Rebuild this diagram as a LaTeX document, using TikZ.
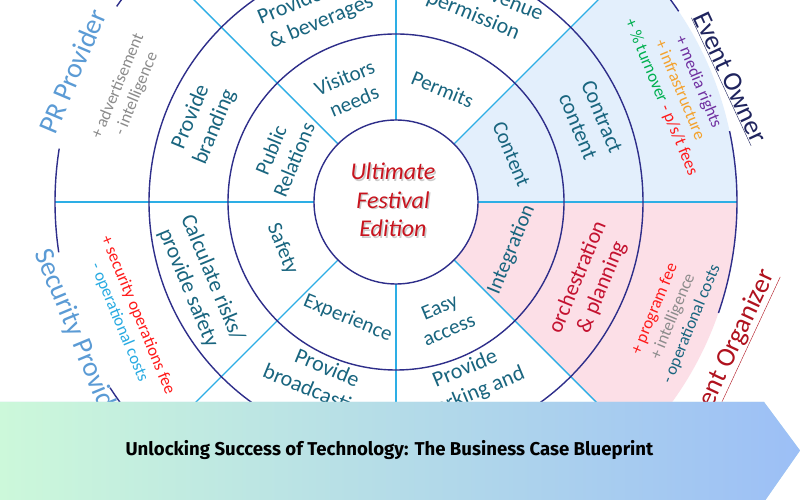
\documentclass[tikz,border=0pt]{standalone}
\usepackage{fontspec}
\setmainfont{Carlito}
\newfontfamily\bannerfont{Fira Sans}
\definecolor{navy}{HTML}{2E2E8A}
\definecolor{cyanl}{HTML}{2DAEE5}
\definecolor{wteal}{HTML}{19657F}
\definecolor{cred}{HTML}{C8141E}
\definecolor{ored}{HTML}{C41230}
\definecolor{prblue}{HTML}{5B9BD5}
\definecolor{ownnavy}{HTML}{1F245E}
\definecolor{orgred}{HTML}{B0121E}
\definecolor{egray}{HTML}{8C8C8C}
\definecolor{epurple}{HTML}{7030A0}
\definecolor{eorange}{HTML}{F4A22D}
\definecolor{egreen}{HTML}{00B050}
\definecolor{ered}{HTML}{FF1A1A}
\definecolor{elblue}{HTML}{29ABE2}
\definecolor{blueF}{HTML}{E3EFFC}
\definecolor{pinkF}{HTML}{FCDFE7}
\definecolor{bL}{HTML}{CCF8DA}
\definecolor{bR}{HTML}{9CBFF6}
\begin{document}
\begin{tikzpicture}[x=1pt,y=1pt,
  ringA/.style={text=wteal, font=\fontsize{21}{25}\selectfont, align=center, inner sep=0pt},
  ringB/.style={text=wteal, font=\fontsize{22}{26}\selectfont, align=center, inner sep=0pt},
  econ/.style={font=\fontsize{17}{20}\selectfont, align=center, inner sep=0pt},
  outerlab/.style={font=\fontsize{28}{32}\selectfont, inner sep=0pt},
  ownlab/.style={font=\fontsize{27}{31}\selectfont, inner sep=0pt},
  circ/.style={draw=navy, line width=1.4pt},
  spoke/.style={draw=cyanl, line width=1.4pt}]
\useasboundingbox (0,0) rectangle (800,500);
\clip (0,0) rectangle (800,500);
\fill[white] (0,0) rectangle (800,500);
\begin{scope}[shift={(396,298)}]
  \coordinate (C) at (0,0);
  % sector fills
  \fill[blueF] (0:82pt) arc (0:45:82pt) -- (45:341pt) arc (45:0:341pt) -- cycle;
  \fill[pinkF] (0:82pt) arc (0:-45:82pt) -- (-45:341pt) arc (-45:0:341pt) -- cycle;
  % spokes
  \foreach \a in {0,45,...,315} \draw[spoke] (\a:82pt) -- (\a:341pt);
  % circles
  \draw[circ] (C) circle (82pt);
  \draw[circ] (C) circle (168pt);
  \draw[circ] (C) circle (247pt);
  \draw[circ] (34:341pt) arc (34:145:341pt);
  \draw[circ] (171:341pt) arc (171:188.5:341pt);
  \draw[circ] (213:341pt) arc (213:318:341pt);
  \draw[circ] (-19:341pt) arc (-19:12:341pt);
  % centre
  \node[text=black!45, opacity=0.45, font=\itshape\fontsize{24}{28.5}\selectfont, align=center] (centreshadow) at (-1.5,0.5) {Ultimate\\Festival\\Edition};
  \node[text=cred, font=\itshape\fontsize{24}{28.5}\selectfont, align=center] (centre) at (-3,2) {Ultimate\\Festival\\Edition};
  % ring 1
  \node[ringA, rotate=22.5] (visitors) at (112.5:122pt) {Visitors\\needs};
  \node[ringA, rotate=-22.5] (permits) at (67.5:122pt) {Permits};
  \node[ringA, rotate=-67.5] (content) at (22.5:125pt) {Content};
  \node[ringA, rotate=67.5] (integ) at (-22.5:125pt) {Integration};
  \node[ringA, rotate=22.5] (easy) at (-67.5:126pt) {Easy\\access};
  \node[ringA, rotate=-22.5] (exper) at (-112.5:126pt) {Experience};
  \node[ringA, rotate=-67.5] (safety) at (-157.5:123pt) {Safety};
  \node[ringA, rotate=67.5] (public) at (157.5:123pt) {Public\\Relations};
  % ring 2
  \node[ringB, rotate=22.5] (food) at (112.5:208pt) {Provide food\\\& beverages};
  \node[ringB, rotate=-22.5] (venue) at (67.5:215pt) {Provide venue\\permission};
  \node[ringB, rotate=-67.5] (contract) at (22.5:210pt) {Contract\\content};
  \node[ringB, rotate=67.5, text=ored] (orch) at (-22.5:210pt) {orchestration\\\& planning};
  \node[ringB, rotate=22.5] (parking) at (-67.5:194pt) {Provide\\parking and};
  \node[ringB, rotate=-22.5] (broad) at (-112.5:194pt) {Provide\\broadcasting};
  \node[ringB, rotate=-67.5] (calc) at (-157.5:212pt) {Calculate risks/\\provide safety};
  \node[ringB, rotate=67.5] (brand) at (157.5:209pt) {Provide\\branding};
  % ring 3
  \node[econ, rotate=-67.5] (ownecon) at (21.6:305pt) {\color{epurple}+ media rights\\\color{eorange}+ infrastructure\\{\color{egreen}+ \% turnover} {\color{ered}- p/s/t fees}};
  \node[econ, rotate=67.5] (orgecon) at (-22.5:300pt) {\color{ered}+ program fee\\\color{egray}+ intelligence\\\color{wteal}- operational costs};
  \node[econ, rotate=-67.5] (sececon) at (-156.4:292pt) {\color{ered}+ security operations fee\\\color{elblue}- operational costs};
  \node[econ, rotate=67.5, text=egray] (precon) at (157.4:291pt) {+ advertisement\\- intelligence};
  % outer labels
  \node[outerlab, rotate=67, text=prblue] (prlab) at (158:349pt) {PR Provider};
  \node[outerlab, rotate=-67.5, text=prblue] (seclab) at (-156.5:346pt) {Security Provider};
  \node[ownlab, rotate=-65, text=ownnavy] (ownlab) at (20.4:356pt) {\underline{Event Owner}};
  \node[ownlab, rotate=65, text=orgred] (orglab) at (-23.7:368pt) {\underline{Event Organizer}};
\end{scope}
% banner
\fill[white] (0,-2) rectangle (800,1);
\fill[bL!50!bR] (0,-2) -- (764,-2) -- (800,49.5) -- (764,98) -- (0,98) -- cycle;
\shade[left color=bL, right color=bR] (0,-2) -- (764,-2) -- (800,49.5) -- (764,98) -- (0,98) -- cycle;
\node[font=\bannerfont\bfseries\fontsize{18.6}{22}\selectfont, text=black] (title) at (389.5,50) {Unlocking Success of Technology: The Business Case Blueprint};
\end{tikzpicture}
\end{document}
